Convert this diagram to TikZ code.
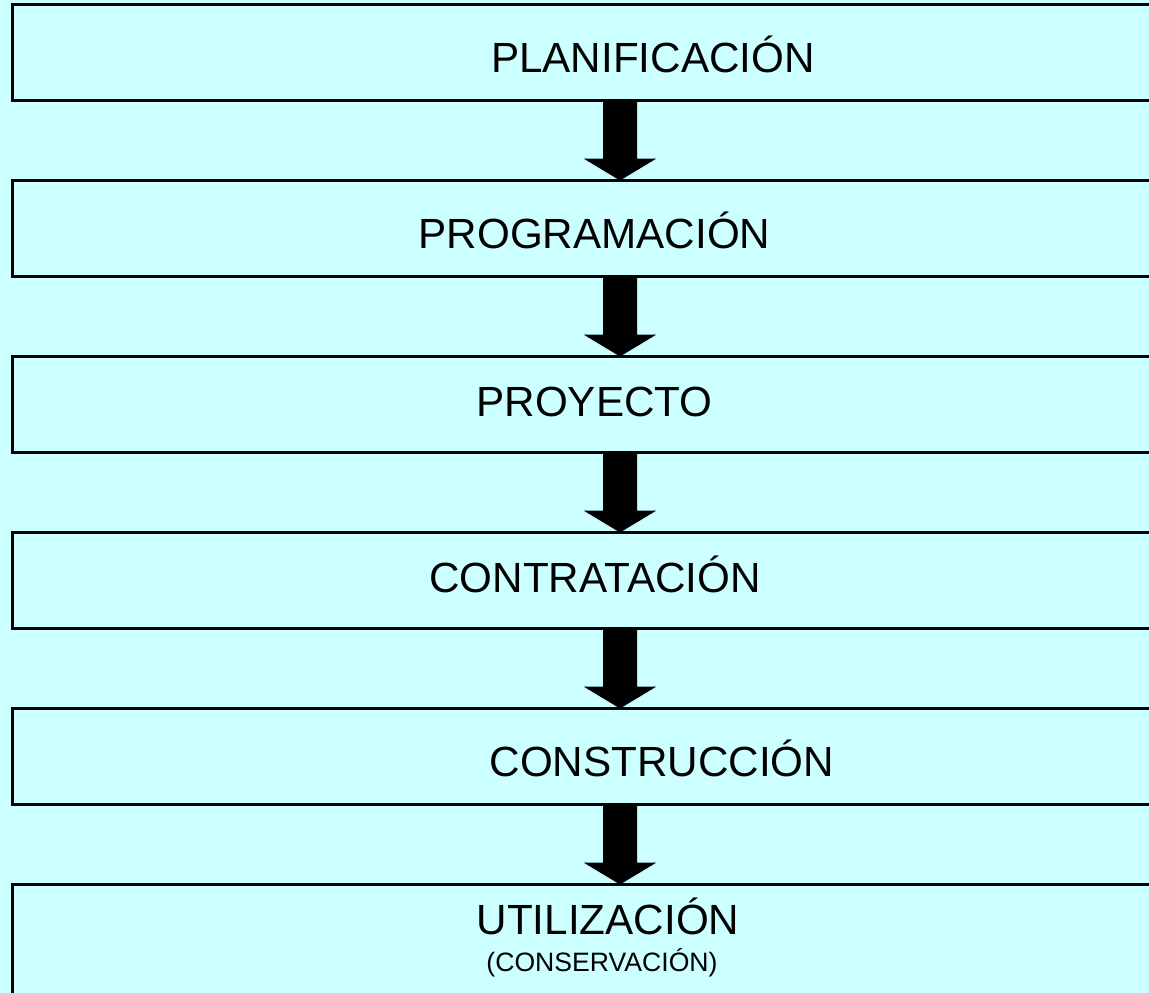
\documentclass[tikz,border=0pt]{standalone}
\usepackage{fontspec}
\setmainfont{Liberation Sans}
\usetikzlibrary{calc}
\definecolor{bgcyan}{HTML}{CCFFFF}
\tikzset{
  stage/.style={draw=black, line width=3pt, fill=bgcyan, rectangle, minimum width=1216pt, minimum height=96pt, anchor=north, inner sep=0pt, outer sep=0pt},
  lastStage/.style={stage, minimum height=160pt},
  big/.style={anchor=base, inner sep=0pt, font=\fontsize{42.2}{50}\selectfont},
  small/.style={anchor=base, inner sep=0pt, font=\fontsize{26.6}{31}\selectfont},
  flowarrow/.style={fill=black}
}
\newcommand{\bigarrow}[2]{%
  \fill[flowarrow] ($(#1.south)+(-17,0)$) -- ($(#2.north)+(-17,-22)$) -- ($(#2.north)+(-36.5,-22)$) -- (#2.north) -- ($(#2.north)+(36.5,-22)$) -- ($(#2.north)+(17,-22)$) -- ($(#1.south)+(17,0)$) -- cycle;}
\begin{document}
\begin{tikzpicture}[x=1pt, y=-1pt]
\fill[bgcyan] (0,0) rectangle (1149,993);
\useasboundingbox (0,0) rectangle (1149,993);
\clip (0,0) rectangle (1149,993);
\node[stage] (b1) at (620,4.5) {};
\node[stage] (b2) at (620,180.5) {};
\node[stage] (b3) at (620,356.5) {};
\node[stage] (b4) at (620,532.5) {};
\node[stage] (b5) at (620,708.5) {};
\node[lastStage] (b6) at (620,884.5) {};
\node[big] (t1) at (653,72) {PLANIFICACIÓN};
\node[big] (t2) at (594.5,248) {PROGRAMACIÓN};
\node[big] (t3) at (594.5,416) {PROYECTO};
\node[big] (t4) at (595,592) {CONTRATACIÓN};
\node[big] (t5) at (662,776) {CONSTRUCCIÓN};
\node[big] (t6) at (608,934) {UTILIZACIÓN};
\node[small] (t7) at (602,971) {(CONSERVACIÓN)};
\bigarrow{b1}{b2}
\bigarrow{b2}{b3}
\bigarrow{b3}{b4}
\bigarrow{b4}{b5}
\bigarrow{b5}{b6}
\end{tikzpicture}
\end{document}
